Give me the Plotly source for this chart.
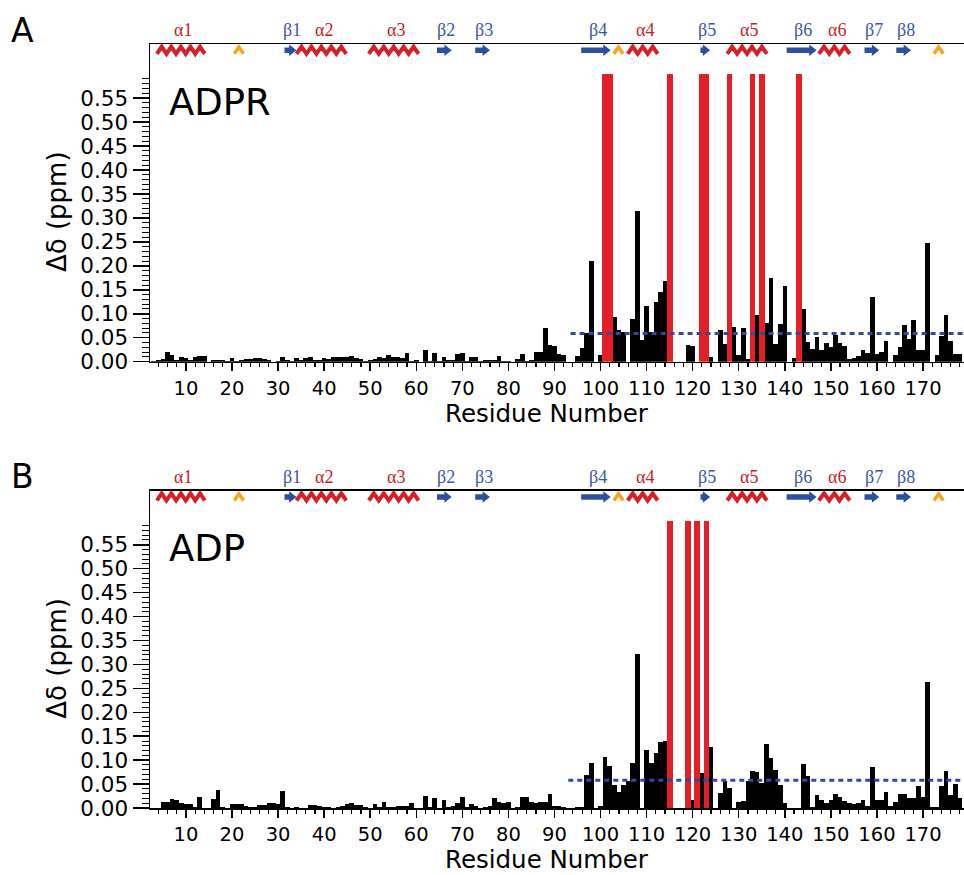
import plotly.graph_objects as go

# ---------------- data ----------------
residues = list(range(3, 179))

adpr_shift = [
    0.002, 0.003, 0.006, 0.021, 0.013, 0.004, 0.010, 0.008, 0.004, 0.009,   # 3-12
    0.011, 0.011, 0.000, 0.004, 0.004, 0.004, 0.001, 0.007, 0.002, 0.004,   # 13-22
    0.005, 0.006, 0.007, 0.007, 0.006, 0.004, 0.000, 0.001, 0.009, 0.004,   # 23-32
    0.002, 0.007, 0.004, 0.007, 0.009, 0.004, 0.003, 0.008, 0.006, 0.009,   # 33-42
    0.010, 0.010, 0.009, 0.012, 0.008, 0.006, 0.002, 0.003, 0.005, 0.010,   # 43-52
    0.007, 0.013, 0.010, 0.010, 0.008, 0.018, 0.002, 0.004, 0.000, 0.024,   # 53-62
    0.002, 0.019, 0.001, 0.009, 0.004, 0.004, 0.017, 0.019, 0.002, 0.010,   # 63-72
    0.009, 0.002, 0.003, 0.003, 0.003, 0.011, 0.002, 0.001, 0.000, 0.005,   # 73-82
    0.017, 0.002, 0.004, 0.021, 0.021, 0.070, 0.035, 0.033, 0.017, 0.015,   # 83-92
    0.000, 0.000, 0.012, 0.028, 0.059, 0.210, 0.000, 0.014, 0.000, 0.000,   # 93-102
    0.094, 0.066, 0.061, 0.000, 0.090, 0.315, 0.045, 0.116, 0.061, 0.124,   # 103-112
    0.146, 0.169, 0.000, 0.000, 0.000, 0.000, 0.035, 0.033, 0.000, 0.000,   # 113-122
    0.000, 0.010, 0.000, 0.066, 0.037, 0.000, 0.073, 0.014, 0.070, 0.006,   # 123-132
    0.000, 0.097, 0.000, 0.080, 0.174, 0.037, 0.079, 0.159, 0.000, 0.008,   # 133-142
    0.000, 0.109, 0.042, 0.026, 0.052, 0.024, 0.040, 0.031, 0.055, 0.038,   # 143-152
    0.033, 0.005, 0.007, 0.012, 0.024, 0.019, 0.134, 0.016, 0.021, 0.043,   # 153-162
    0.000, 0.013, 0.031, 0.077, 0.047, 0.087, 0.024, 0.024, 0.248, 0.000,   # 163-172
    0.014, 0.054, 0.097, 0.044, 0.017, 0.017,                               # 173-178
]

adp_shift = [
    0.000, 0.001, 0.0125, 0.0125, 0.019, 0.017, 0.010, 0.008, 0.009, 0.002,  # 3-12
    0.022, 0.000, 0.000, 0.019, 0.038, 0.002, 0.000, 0.008, 0.008, 0.008,    # 13-22
    0.004, 0.003, 0.003, 0.006, 0.006, 0.010, 0.010, 0.009, 0.035, 0.002,    # 23-32
    0.000, 0.002, 0.001, 0.000, 0.007, 0.007, 0.004, 0.002, 0.002, 0.000,    # 33-42
    0.002, 0.004, 0.009, 0.010, 0.007, 0.007, 0.002, 0.001, 0.008, 0.002,    # 43-52
    0.0125, 0.002, 0.002, 0.004, 0.005, 0.005, 0.010, 0.000, 0.000, 0.026,   # 53-62
    0.002, 0.021, 0.000, 0.017, 0.002, 0.004, 0.010, 0.024, 0.002, 0.009,    # 63-72
    0.005, 0.000, 0.002, 0.004, 0.021, 0.0125, 0.010, 0.0125, 0.000, 0.002,  # 73-82
    0.023, 0.023, 0.0125, 0.011, 0.012, 0.0125, 0.029, 0.004, 0.004, 0.002,  # 83-92
    0.000, 0.000, 0.002, 0.003, 0.068, 0.094, 0.000, 0.005, 0.106, 0.087,    # 93-102
    0.049, 0.033, 0.049, 0.056, 0.094, 0.322, 0.000, 0.122, 0.094, 0.115,    # 103-112
    0.137, 0.139, 0.000, 0.000, 0.000, 0.000, 0.000, 0.016, 0.000, 0.073,    # 113-122
    0.000, 0.127, 0.000, 0.031, 0.056, 0.042, 0.000, 0.012, 0.015, 0.056,    # 123-132
    0.078, 0.075, 0.052, 0.134, 0.104, 0.079, 0.049, 0.010, 0.000, 0.000,    # 133-142
    0.000, 0.092, 0.066, 0.003, 0.028, 0.016, 0.010, 0.016, 0.030, 0.023,    # 143-152
    0.014, 0.010, 0.009, 0.010, 0.017, 0.005, 0.086, 0.016, 0.016, 0.033,    # 153-162
    0.005, 0.012, 0.030, 0.030, 0.021, 0.021, 0.047, 0.024, 0.264, 0.002,    # 163-172
    0.002, 0.045, 0.077, 0.028, 0.051, 0.021,                                # 173-178
]

adpr_broadened = [101, 102, 115, 122, 123, 128, 133, 135, 143]
adp_broadened = [115, 119, 121, 123]
broadened_value = 0.60

adpr_cutoff = 0.059
adp_cutoff = 0.058
adpr_cutoff_start = 93.5
adp_cutoff_start = 93.0
residue_end = 178.9

x_tickvals = list(range(10, 171, 10))
y_tickvals = [0.00, 0.05, 0.10, 0.15, 0.20, 0.25, 0.30, 0.35, 0.40, 0.45, 0.50, 0.55]
y_ticktext = ["0.00", "0.05", "0.10", "0.15", "0.20", "0.25", "0.30",
              "0.35", "0.40", "0.45", "0.50", "0.55"]
y_minor_vals = [i / 100 for i in range(1, 60) if i % 5 != 0]

helix_names = ["α1", "α2", "α3", "α4", "α5", "α6"]
helix_start = [3.7, 34.0, 49.7, 105.9, 127.5, 147.4]
helix_end = [14.1, 44.8, 60.5, 112.4, 136.1, 154.1]

strand_names = ["β1", "β2", "β3", "β4", "β5", "β6", "β7", "β8"]
strand_start = [31.4, 64.5, 72.8, 95.8, 121.7, 140.4, 157.3, 164.2]
strand_end = [34.0, 67.7, 76.0, 102.2, 123.8, 146.9, 160.5, 167.4]

turn_center = [21.5, 103.9, 173.4]

panel_letters = ["A", "B"]
ligands = ["ADPR", "ADP"]

# ---------------- layout helpers ----------------
W, H = 964, 875
ML, MR, MT, MB = 150, 0, 44, 67


def px(x):
    return (x - ML) / (W - ML - MR)


def py(y):
    return (H - MB - y) / (H - MT - MB)


FONT = "DejaVu Sans"
RED_BAR = "#e41f26"
HELIX_RED = "#d42128"
STRAND_BLUE = "#2e4e9e"
TURN_ORANGE = "#f8a31b"
DASH_BLUE = "#34489c"
ALPHA_LABEL = "#c41e2a"
BETA_LABEL = "#3c56a5"

YTOP = 0.663
SS_Y = 0.650

fig = go.Figure()

panels = [
    (adpr_shift, adpr_broadened, adpr_cutoff, adpr_cutoff_start, "x", "y"),
    (adp_shift, adp_broadened, adp_cutoff, adp_cutoff_start, "x2", "y2"),
]

shapes = []
annotations = []

for pi, (vals, red, cut, cut_start, xa, ya) in enumerate(panels):
    fig.add_trace(go.Bar(x=residues, y=vals, width=1.0, marker=dict(color="black", line=dict(width=0)),
                         xaxis=xa, yaxis=ya, showlegend=False))
    fig.add_trace(go.Bar(x=red, y=[broadened_value] * len(red), width=1.25,
                         marker=dict(color=RED_BAR, line=dict(width=0)),
                         xaxis=xa, yaxis=ya, showlegend=False))
    fig.add_trace(go.Scatter(x=[cut_start, residue_end], y=[cut, cut], mode="lines",
                             line=dict(color=DASH_BLUE, width=3, dash="5px,4px"),
                             xaxis=xa, yaxis=ya, showlegend=False))

    # helices (zigzag)
    for name, s, e in zip(helix_names, helix_start, helix_end):
        n = max(3, round((e - s) / 2.1))
        w = (e - s) / n
        yb, yt = SS_Y - 0.0075, SS_Y + 0.0075
        path = f"M {s},{yb}"
        for k in range(n):
            path += f" L {s + w * (k + 0.5)},{yt} L {s + w * (k + 1)},{yb}"
        shapes.append(dict(type="path", path=path, xref=xa, yref=ya,
                           line=dict(color=HELIX_RED, width=4), layer="above"))
        annotations.append(dict(text=name, x=(s + e) / 2 + 0.5, y=YTOP, xref=xa, yref=ya,
                                xanchor="center", yanchor="bottom", yshift=2, showarrow=False,
                                font=dict(family="Liberation Serif", size=18, color=ALPHA_LABEL)))
    # strands (arrows)
    for name, s, e in zip(strand_names, strand_start, strand_end):
        head = min(1.6, (e - s))
        hb, hh = 0.0058, 0.012
        xh = e - head
        path = (f"M {s},{SS_Y - hb} L {xh},{SS_Y - hb} L {xh},{SS_Y - hh} L {e},{SS_Y} "
                f"L {xh},{SS_Y + hh} L {xh},{SS_Y + hb} L {s},{SS_Y + hb} Z")
        shapes.append(dict(type="path", path=path, xref=xa, yref=ya,
                           fillcolor=STRAND_BLUE, line=dict(width=0), layer="above"))
        annotations.append(dict(text=name, x=(s + e) / 2 + 0.4, y=YTOP, xref=xa, yref=ya,
                                xanchor="center", yanchor="bottom", yshift=2, showarrow=False,
                                font=dict(family="Liberation Serif", size=18, color=BETA_LABEL)))
    # turns
    for c in turn_center:
        path = f"M {c - 1.0},{SS_Y - 0.0075} L {c},{SS_Y + 0.0065} L {c + 1.0},{SS_Y - 0.0075}"
        shapes.append(dict(type="path", path=path, xref=xa, yref=ya,
                           line=dict(color=TURN_ORANGE, width=3.5), layer="above"))

    off = pi * 446.7
    annotations.append(dict(text=panel_letters[pi], x=px(23), y=py(30 + off), xref="paper", yref="paper",
                            xanchor="center", yanchor="middle", showarrow=False,
                            font=dict(family=FONT, size=33, color="black")))
    annotations.append(dict(text=ligands[pi], x=px(167), y=py(102 + off), xref="paper", yref="paper",
                            xanchor="left", yanchor="middle", showarrow=False,
                            font=dict(family=FONT, size=37, color="black")))
    annotations.append(dict(text="Residue Number", x=px(547), y=py(413 + off), xref="paper", yref="paper",
                            xanchor="center", yanchor="middle", showarrow=False,
                            font=dict(family=FONT, size=24.5, color="black")))
    annotations.append(dict(text="Δδ (ppm)", x=px(57), y=py(212 + off), xref="paper", yref="paper",
                            xanchor="center", yanchor="middle", showarrow=False, textangle=-90,
                            font=dict(family=FONT, size=26, color="black")))

xaxis_common = dict(
    range=[2.2, residue_end], tickmode="array", tickvals=x_tickvals, automargin=False,
    ticks="outside", ticklen=8, tickwidth=1.5, tickcolor="black",
    showline=True, linecolor="black", linewidth=1.5, mirror=True,
    showgrid=False, zeroline=False,
    tickfont=dict(family=FONT, size=19.5, color="black"),
    minor=dict(tickmode="linear", tick0=0, dtick=2, ticks="outside", ticklen=4,
               tickwidth=1.2, tickcolor="black", showgrid=False),
)
yaxis_common = dict(
    range=[0, YTOP], tickmode="array", tickvals=y_tickvals, ticktext=y_ticktext, automargin=False,
    ticks="outside", ticklen=16, tickwidth=1.5, tickcolor="black",
    showline=True, linecolor="black", linewidth=1.5, mirror=False,
    showgrid=False, zeroline=False,
    tickfont=dict(family=FONT, size=21.5, color="black"),
    minor=dict(tickmode="array", tickvals=y_minor_vals, ticks="outside", ticklen=7,
               tickwidth=1, tickcolor="black", showgrid=False),
)

fig.update_layout(
    width=W, height=H,
    margin=dict(l=ML, r=MR, t=MT, b=MB, autoexpand=False),
    paper_bgcolor="white", plot_bgcolor="white",
    barmode="overlay", bargap=0,
    showlegend=False, hovermode=False,
    xaxis=dict(domain=[0, 1], anchor="y", **xaxis_common),
    yaxis=dict(domain=[py(361.7), 1], anchor="x", **yaxis_common),
    xaxis2=dict(domain=[0, 1], anchor="y2", **xaxis_common),
    yaxis2=dict(domain=[0, py(490.7)], anchor="x2", **yaxis_common),
    shapes=shapes,
    annotations=annotations,
)

fig.write_html("out.html", config={"displayModeBar": False, "staticPlot": True},
               post_script="document.body.style.margin='0px';document.body.style.overflow='hidden';")
